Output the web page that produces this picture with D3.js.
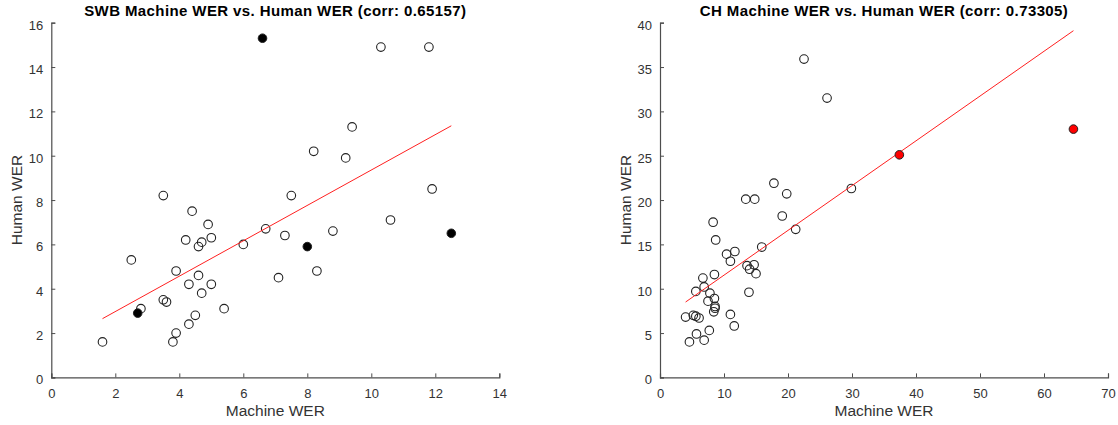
<!DOCTYPE html>
<html>
<head>
<meta charset="utf-8">
<script src="https://cdn.jsdelivr.net/npm/d3@7"></script>
<style>
  body { margin:0; background:#fff; }
  text { font-family: "Liberation Sans", Arial, sans-serif; }
</style>
</head>
<body>
<div id="chart"></div>
<script>
/////////////////////////////////////////////////////////////////////
///////////////////////// data ////////////////////////////////////////
/////////////////////////////////////////////////////////////////////
// SWB panel
var swbMachine = [10.3, 11.8, 9.4, 8.2, 9.2, 3.5, 7.5, 11.9, 4.4, 4.9, 10.6, 6.7, 8.8, 7.3, 4.2, 4.7, 5.0, 4.6, 6.0, 2.5,
                  3.9, 8.3, 4.6, 7.1, 4.3, 5.0, 4.7, 3.5, 3.6, 2.8, 5.4, 4.5, 4.3, 3.9, 3.8, 1.6];
var swbHuman   = [14.9, 14.9, 11.3, 10.2, 9.9, 8.2, 8.2, 8.5, 7.5, 6.9, 7.1, 6.7, 6.6, 6.4, 6.2, 6.1, 6.3, 5.9, 6.0, 5.3,
                  4.8, 4.8, 4.6, 4.5, 4.2, 4.2, 3.8, 3.5, 3.4, 3.1, 3.1, 2.8, 2.4, 2.0, 1.6, 1.6];
var swbHlMachine = [6.6, 2.7, 8.0, 12.5];
var swbHlHuman   = [15.3, 2.9, 5.9, 6.5];
var swbFitX = [1.6, 12.5];
var swbFitY = [2.65, 11.35];
var swbXTicks = [0, 2, 4, 6, 8, 10, 12, 14];
var swbYTicks = [0, 2, 4, 6, 8, 10, 12, 14, 16];

// CH panel
var chMachine = [22.5, 26.1, 17.8, 13.4, 14.8, 19.8, 29.9, 19.1, 8.3, 21.2, 15.9, 8.7, 11.7, 10.4, 11.0, 14.7, 13.6, 14.0, 15.0, 8.5,
                 6.7, 6.9, 5.6, 7.8, 13.9, 8.5, 7.5, 8.6, 8.6, 8.4, 11.0, 4.0, 5.2, 5.6, 6.1, 11.6, 7.7, 5.7, 4.6, 6.9];
var chHuman   = [35.9, 31.5, 21.9, 20.1, 20.1, 20.7, 21.3, 18.2, 17.5, 16.7, 14.7, 15.5, 14.2, 13.9, 13.1, 12.7, 12.6, 12.2, 11.7, 11.6,
                 11.2, 10.2, 9.7, 9.5, 9.6, 8.9, 8.6, 8.0, 7.8, 7.4, 7.1, 6.8, 7.0, 6.9, 6.7, 5.8, 5.3, 4.9, 4.0, 4.2];
var chHlMachine = [37.4, 64.6];
var chHlHuman   = [25.1, 28.0];
var chFitX = [4.0, 64.6];
var chFitY = [8.5, 39.1];
var chXTicks = [0, 10, 20, 30, 40, 50, 60, 70];
var chYTicks = [0, 5, 10, 15, 20, 25, 30, 35, 40];

/////////////////////////////////////////////////////////////////////
///////////////////////// globals /////////////////////////////////////
/////////////////////////////////////////////////////////////////////
var wdim = 1118, hdim = 425;
var plotW = 448, plotH = 354.7, plotTop = 22.7;
var axisColor = "#4d4d4d", textColor = "#333";
var canvas;

function build_canvas(){
	var svg = d3.select("#chart")
		.append("svg")
		.attr("width", wdim)
		.attr("height", hdim);
	return svg;
}

function draw_panel(left, title, mx, hy, hlx, hly, fitx, fity, xt, yt, hlColor){
	var g = canvas.append("g").attr("transform", "translate(" + left + "," + plotTop + ")");

	var x = d3.scaleLinear().domain([xt[0], xt[xt.length-1]]).range([0, plotW]);
	var y = d3.scaleLinear().domain([yt[0], yt[yt.length-1]]).range([plotH, 0]);

	var xAxis = g.append("g")
		.attr("transform", "translate(0," + plotH + ")")
		.call(d3.axisBottom(x).tickValues(xt).tickSize(-4).tickPadding(11));
	var yAxis = g.append("g")
		.call(d3.axisLeft(y).tickValues(yt).tickSize(-4).tickPadding(8));

	[xAxis, yAxis].forEach(function(a){
		a.select(".domain").attr("stroke", axisColor).attr("stroke-width", 1.2);
		a.selectAll(".tick line").attr("stroke", axisColor);
		a.selectAll(".tick text").attr("fill", textColor).style("font-size", "13px");
	});
	yAxis.selectAll(".tick text").attr("dy", "0.5em");

	// title
	g.append("text")
		.attr("x", plotW/2)
		.attr("y", -7)
		.attr("text-anchor", "middle")
		.style("font-size", "15px")
		.style("font-weight", "bold")
		.style("letter-spacing", "0.4px")
		.attr("fill", "#000")
		.text(title);

	g.append("text")
		.attr("x", plotW/2)
		.attr("y", plotH + 39)
		.attr("text-anchor", "middle")
		.style("font-size", "15.5px")
		.attr("fill", textColor)
		.text("Machine WER");

	g.append("text")
		.attr("transform", "translate(-29," + (plotH/2) + ") rotate(-90)")
		.attr("text-anchor", "middle")
		.style("font-size", "15.5px")
		.attr("fill", textColor)
		.text("Human WER");

	// open markers
	g.selectAll(".pt")
		.data(d3.range(mx.length))
		.enter().append("circle")
		.attr("class", "pt")
		.attr("cx", function(i){return x(mx[i])})
		.attr("cy", function(i){return y(hy[i])})
		.attr("r", 4.3)
		.attr("fill", "none")
		.attr("stroke", "#222")
		.attr("stroke-width", 1.1);

	// fit line
	g.append("line")
		.attr("x1", x(fitx[0])).attr("y1", y(fity[0]))
		.attr("x2", x(fitx[1])).attr("y2", y(fity[1]))
		.attr("stroke", "#ff2020")
		.attr("stroke-width", 1);

	// highlighted markers
	g.selectAll(".hl")
		.data(d3.range(hlx.length))
		.enter().append("circle")
		.attr("class", "hl")
		.attr("cx", function(i){return x(hlx[i])})
		.attr("cy", function(i){return y(hly[i])})
		.attr("r", 4.3)
		.attr("fill", hlColor)
		.attr("stroke", "#222")
		.attr("stroke-width", 1);
}

function main(){
	d3.selectAll("svg").remove();
	canvas = build_canvas();
	draw_panel(51.3, "SWB Machine WER vs. Human WER (corr: 0.65157)",
		swbMachine, swbHuman, swbHlMachine, swbHlHuman, swbFitX, swbFitY, swbXTicks, swbYTicks, "#000");
	draw_panel(660, "CH Machine WER vs. Human WER (corr: 0.73305)",
		chMachine, chHuman, chHlMachine, chHlHuman, chFitX, chFitY, chXTicks, chYTicks, "#ff0000");
}

main();
</script>
</body>
</html>
